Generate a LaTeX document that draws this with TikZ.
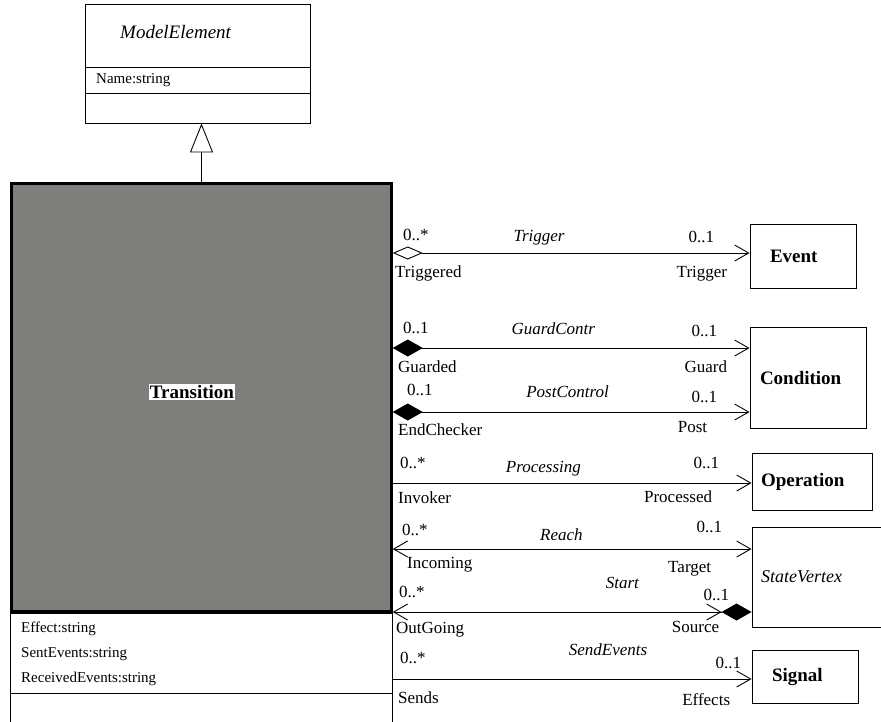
\documentclass[tikz,border=0pt]{standalone}
\usepackage{fontspec}
\setmainfont{Liberation Serif}
\usetikzlibrary{arrows.meta, positioning}
\definecolor{transgray}{RGB}{126,127,123}

\begin{document}
\begin{tikzpicture}[
    x=1pt, y=-1pt,
    cls/.style={draw, line width=0.9pt, align=left, inner ysep=0pt,
                font=\fontsize{19}{22}\selectfont\bfseries},
    role/.style={inner sep=0pt, font=\fontsize{17}{20}\selectfont},
    aname/.style={inner sep=0pt, anchor=base, yshift=#1,
                  font=\fontsize{17}{20}\selectfont\itshape},
    attr/.style={inner sep=0pt, anchor=base west, font=\fontsize{15}{17}\selectfont},
    lt/.style 2 args={at start, anchor=base west, xshift=#1, yshift=#2},
    lb/.style 2 args={at start, anchor=base west, xshift=#1, yshift=#2},
    rt/.style 2 args={at end, anchor=base east, xshift=#1, yshift=#2},
    rb/.style 2 args={at end, anchor=base east, xshift=#1, yshift=#2},
    assoc/.style={line width=0.9pt},
    agg/.style={{Diamond[open, length=30pt, width=13pt]}-{Straight Barb[length=14pt, width=16pt]}},
    comp/.style={{Diamond[length=30pt, width=17pt]}-{Straight Barb[length=14pt, width=16pt]}},
    nav/.style={-{Straight Barb[length=14pt, width=16pt]}},
    both/.style={{Straight Barb[length=14pt, width=16pt]}-{Straight Barb[length=14pt, width=16pt]}},
    src/.style={{Straight Barb[length=14pt, width=16pt]}-{Straight Barb[length=14pt, width=16pt] Diamond[length=30pt, width=17pt]}},
    inherit/.style={-{Triangle[open, length=29pt, width=23pt]}, line width=0.9pt}
  ]
  \useasboundingbox (0,0) rectangle (881,721);
  \clip (0,0) rectangle (881,721);

  % superclass
  \node[draw, line width=0.9pt, minimum width=225pt, minimum height=119pt] (model) at (197.5,63.5) {};
  \node[attr, font=\fontsize{19}{22}\selectfont\itshape] (modelname) at (120,38) {ModelElement};
  \draw[line width=0.9pt] (model.west |- 0,67) -- (model.east |- 0,67);
  \draw[line width=0.9pt] (model.west |- 0,93) -- (model.east |- 0,93);
  \node[attr] (modelattr) at (96,83) {Name:string};

  % Transition with its attributes
  \node[draw, line width=2.5pt, fill=transgray, minimum width=380pt, minimum height=428pt] (trans) at (201.5,397.5) {};
  \node[fill=white, inner sep=1pt, font=\fontsize{19}{22}\selectfont\bfseries] (transname) at (192,392) {Transition};
  \node[draw, line width=0.9pt, anchor=north, minimum width=382pt, minimum height=130pt] (transattr) at (trans.south) {};
  \draw[line width=0.9pt] (transattr.west |- 0,693) -- (transattr.east |- 0,693);
  \node[attr] (effect) at (21,632) {Effect:string};
  \node[attr] (sent) at (21,657) {SentEvents:string};
  \node[attr] (received) at (21,682) {ReceivedEvents:string};

  \draw[inherit] (trans.north) -- (trans.north |- model.south);

  % associated classes
  \node[cls, inner xsep=20pt, text width=66pt, minimum height=64pt] (event) at (803,256) {Event};
  \node[cls, inner xsep=10pt, text width=96pt, minimum height=101pt] (condition) at (808,377.5) {Condition};
  \node[cls, inner xsep=9pt, text width=102pt, minimum height=57pt] (operation) at (812,481.5) {Operation};
  \node[cls, inner xsep=9pt, text width=122pt, minimum height=100pt,
        font=\fontsize{18}{22}\selectfont\itshape] (vertex) at (822,577) {StateVertex};
  \node[cls, inner xsep=20pt, text width=66pt, minimum height=53pt] (signal) at (805,676.5) {Signal};

  % associations
  \draw[assoc, agg] (trans.east |- 0,253) -- (event.west |- 0,253)
    node[role, lt={10pt}{13pt}] (trigm1) {0..*}
    node[role, lb={2pt}{-24pt}] (trigr1) {Triggered}
    node[aname=12pt, pos=.41] (trigname) {Trigger}
    node[role, rt={-35pt}{11pt}] (trigm2) {0..1}
    node[role, rb={-22pt}{-24pt}] (trigr2) {Trigger};

  \draw[assoc, comp] (trans.east |- 0,348) -- (condition.west |- 0,348)
    node[role, lt={10pt}{15pt}] (guardm1) {0..1}
    node[role, lb={5pt}{-24pt}] (guardr1) {Guarded}
    node[aname=14pt, pos=.45] (guardname) {GuardContr}
    node[role, rt={-32pt}{12pt}] (guardm2) {0..1}
    node[role, rb={-22pt}{-24pt}] (guardr2) {Guard};

  \draw[assoc, comp] (trans.east |- 0,412) -- (condition.west |- 0,412)
    node[role, lt={14pt}{17pt}] (postm1) {0..1}
    node[role, lb={5pt}{-23pt}] (postr1) {EndChecker}
    node[aname=15pt, pos=.49] (postname) {PostControl}
    node[role, rt={-32pt}{10pt}] (postm2) {0..1}
    node[role, rb={-42pt}{-20pt}] (postr2) {Post};

  \draw[assoc, nav] (trans.east |- 0,483) -- (operation.west |- 0,483)
    node[role, lt={7pt}{15pt}] (procm1) {0..*}
    node[role, lb={5pt}{-20pt}] (procr1) {Invoker}
    node[aname=11pt, pos=.42] (procname) {Processing}
    node[role, rt={-32pt}{15pt}] (procm2) {0..1}
    node[role, rb={-39pt}{-19pt}] (procr2) {Processed};

  \draw[assoc, both] (trans.east |- 0,549) -- (vertex.west |- 0,549)
    node[role, lt={9pt}{14pt}] (reachm1) {0..*}
    node[role, lb={14pt}{-19pt}] (reachr1) {Incoming}
    node[aname=9pt, pos=.47] (reachname) {Reach}
    node[role, rt={-29pt}{17pt}] (reachm2) {0..1}
    node[role, rb={-40pt}{-23pt}] (reachr2) {Target};

  \draw[assoc, src] (trans.east |- 0,612) -- (vertex.west |- 0,612)
    node[role, lt={6pt}{15pt}] (startm1) {0..*}
    node[role, lb={3pt}{-21pt}] (startr1) {OutGoing}
    node[aname=24pt, pos=.64] (startname) {Start}
    node[role, rt={-22pt}{12pt}] (startm2) {0..1}
    node[role, rb={-32pt}{-20pt}] (startr2) {Source};

  \draw[assoc, nav] (trans.east |- 0,679) -- (signal.west |- 0,679)
    node[role, lt={7pt}{16pt}] (sendm1) {0..*}
    node[role, lb={5pt}{-24pt}] (sendr1) {Sends}
    node[aname=24pt, pos=.60] (sendname) {SendEvents}
    node[role, rt={-10pt}{11pt}] (sendm2) {0..1}
    node[role, rb={-21pt}{-26pt}] (sendr2) {Effects};
\end{tikzpicture}
\end{document}
